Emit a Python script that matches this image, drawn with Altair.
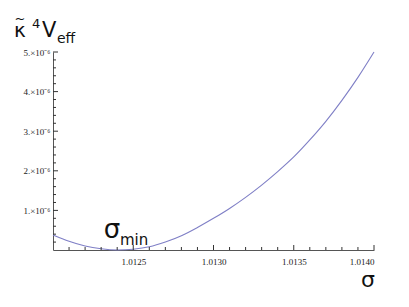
import altair as alt
import pandas as pd

# curve values (V in units of 1e-6)
sigma = [1.0120, 1.0121, 1.0122, 1.0123, 1.0124, 1.0125, 1.0126, 1.0127, 1.0128, 1.0129,
         1.0130, 1.0131, 1.0132, 1.0133, 1.0134, 1.0135, 1.0136, 1.0137, 1.0138, 1.0139, 1.0140]
v_e6 = [0.38, 0.22, 0.10, 0.03, 0.00, 0.02, 0.08, 0.20, 0.36, 0.57,
        0.80, 1.05, 1.33, 1.64, 1.98, 2.35, 2.78, 3.25, 3.78, 4.36, 5.00]

x_major = [1.0125, 1.0130, 1.0135, 1.0140]
x_minor = [1.0121, 1.0122, 1.0123, 1.0124, 1.0126, 1.0127, 1.0128, 1.0129,
           1.0131, 1.0132, 1.0133, 1.0134, 1.0136, 1.0137, 1.0138, 1.0139]
y_major = [1e-6, 2e-6, 3e-6, 4e-6, 5e-6]
y_minor = [0.2e-6, 0.4e-6, 0.6e-6, 0.8e-6, 1.2e-6, 1.4e-6, 1.6e-6, 1.8e-6,
           2.2e-6, 2.4e-6, 2.6e-6, 2.8e-6, 3.2e-6, 3.4e-6, 3.6e-6, 3.8e-6,
           4.2e-6, 4.4e-6, 4.6e-6, 4.8e-6]

W, H = 321, 198
AX = "#333333"
df = pd.DataFrame({"sigma": sigma, "V": [v * 1e-6 for v in v_e6]})

xs = alt.Scale(domain=[1.0120, 1.0140], nice=False, zero=False)
ys = alt.Scale(domain=[0, 5e-6], nice=False)

x_axis = alt.Axis(
    values=x_major, format=".4f", title=None, ticks=False, grid=False,
    domainColor="#555555", labelFont="Liberation Serif", labelFontSize=9, labelColor="#222222",
    labelPadding=7)
y_axis = alt.Axis(
    values=y_major, title=None, ticks=False, grid=False, domainColor="#555555",
    labelExpr="round(datum.value*1e6) + '.×10⁻⁶'",
    labelFont="Liberation Serif", labelFontSize=9, labelColor="#222222", labelPadding=3)

curve = alt.Chart(df).mark_line(color="#7f7fc6", strokeWidth=1.1, interpolate="monotone").encode(
    x=alt.X("sigma:Q", scale=xs, axis=x_axis),
    y=alt.Y("V:Q", scale=ys, axis=y_axis),
)

def xticks(vals, ln):
    return alt.Chart(pd.DataFrame({"sigma": vals})).mark_rule(color=AX, strokeWidth=1).encode(
        x=alt.X("sigma:Q", scale=xs, axis=x_axis), y=alt.value(H), y2=alt.value(H - ln))

def yticks(vals, ln):
    return alt.Chart(pd.DataFrame({"V": vals})).mark_rule(color=AX, strokeWidth=1).encode(
        y=alt.Y("V:Q", scale=ys, axis=y_axis), x=alt.value(0), x2=alt.value(ln))

one = pd.DataFrame({"a": [0]})
def txt(s, x, y, size, align="left"):
    return alt.Chart(one).mark_text(font="DejaVu Sans", fontSize=size, align=align,
                                    baseline="alphabetic", color="#111111").encode(
        x=alt.value(x), y=alt.value(y), text=alt.value(s))

layers = [
    curve,
    xticks(x_major, 5), xticks(x_minor, 3), yticks(y_major, 5), yticks(y_minor, 3),
    txt("κ", -33, -15, 20, "center"),
    txt("~", -33, -29, 13, "center"),
    txt("4", -21, -24, 13),
    txt("V", -11, -15, 21),
    txt("eff", 4, -9, 14),
    txt("σ", 315, 235, 22, "center"),
    txt("σ", 59, 186, 26, "center"),
    txt("min", 67, 193, 15),
]

chart = alt.layer(*layers).properties(
    width=W, height=H, autosize="none", background="white",
    padding={"left": 45, "top": 44, "right": 20, "bottom": 45},
).configure_view(stroke=None)

chart.save("out.html", embed_options={"renderer": "svg", "actions": False})
